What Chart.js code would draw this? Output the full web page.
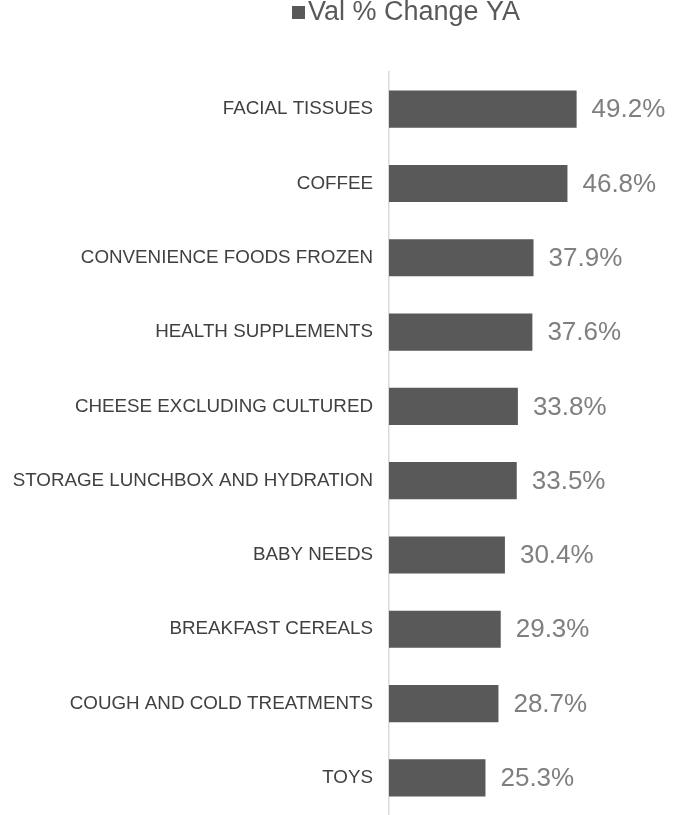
<!DOCTYPE html>
<html>
<head>
<meta charset="utf-8">
<script src="https://cdn.jsdelivr.net/npm/chart.js@4/dist/chart.umd.min.js"></script>
<style>
  html, body { margin: 0; padding: 0; background: #ffffff; overflow: hidden; }
  canvas { display: block; }
</style>
</head>
<body>
<canvas id="chart" width="679" height="815"></canvas>
<script>
// Categories and their value % change vs. year ago
const categories = [
  "FACIAL TISSUES",
  "COFFEE",
  "CONVENIENCE FOODS FROZEN",
  "HEALTH SUPPLEMENTS",
  "CHEESE EXCLUDING CULTURED",
  "STORAGE LUNCHBOX AND HYDRATION",
  "BABY NEEDS",
  "BREAKFAST CEREALS",
  "COUGH AND COLD TREATMENTS",
  "TOYS"
];
const valChangeYA = [49.2, 46.8, 37.9, 37.6, 33.8, 33.5, 30.4, 29.3, 28.7, 25.3];
const seriesName = "Val % Change YA";

const FONT = "'Liberation Sans', Arial, Helvetica, sans-serif";
const BAR_COLOR = "#595959";

// Value labels placed just past the end of each bar
const valueLabels = {
  id: "valueLabels",
  afterDatasetsDraw(chart) {
    const ctx = chart.ctx;
    const meta = chart.getDatasetMeta(0);
    ctx.save();
    ctx.font = "26px " + FONT;
    ctx.fillStyle = "#7f7f7f";
    ctx.textAlign = "left";
    ctx.textBaseline = "middle";
    meta.data.forEach((bar, i) => {
      const v = chart.data.datasets[0].data[i];
      ctx.fillText(v.toFixed(1) + "%", bar.x + 15, bar.y + 1);
    });
    ctx.restore();
  }
};

// Series key drawn above the plot
const seriesKey = {
  id: "seriesKey",
  afterDraw(chart) {
    const ctx = chart.ctx;
    const ds = chart.data.datasets[0];
    ctx.save();
    ctx.fillStyle = ds.backgroundColor;
    ctx.fillRect(292, 6, 13, 13);
    ctx.font = "27px " + FONT;
    ctx.fillStyle = "#595959";
    ctx.textAlign = "left";
    ctx.textBaseline = "middle";
    ctx.fillText(ds.label, 308, 13);
    ctx.restore();
  }
};

new Chart(document.getElementById("chart"), {
  type: "bar",
  data: {
    labels: categories,
    datasets: [{
      label: seriesName,
      data: valChangeYA,
      backgroundColor: BAR_COLOR,
      borderWidth: 0,
      categoryPercentage: 1.0,
      barPercentage: 0.5
    }]
  },
  options: {
    indexAxis: "y",
    responsive: false,
    animation: false,
    layout: { padding: { top: 72, right: 4, bottom: 0, left: 0 } },
    plugins: {
      legend: { display: false },
      tooltip: { enabled: false }
    },
    scales: {
      x: {
        display: false,
        min: 0,
        max: 75
      },
      y: {
        afterFit(scale) {
          scale.width = 389;
          scale.paddingTop = 0;
          scale.paddingBottom = 0;
        },
        grid: { display: false, drawTicks: false },
        border: { display: true, color: "#d9d9d9", width: 1.5 },
        ticks: {
          color: "#404040",
          padding: 16,
          font: { family: FONT, size: 18.8 }
        }
      }
    }
  },
  plugins: [valueLabels, seriesKey]
});
</script>
</body>
</html>
